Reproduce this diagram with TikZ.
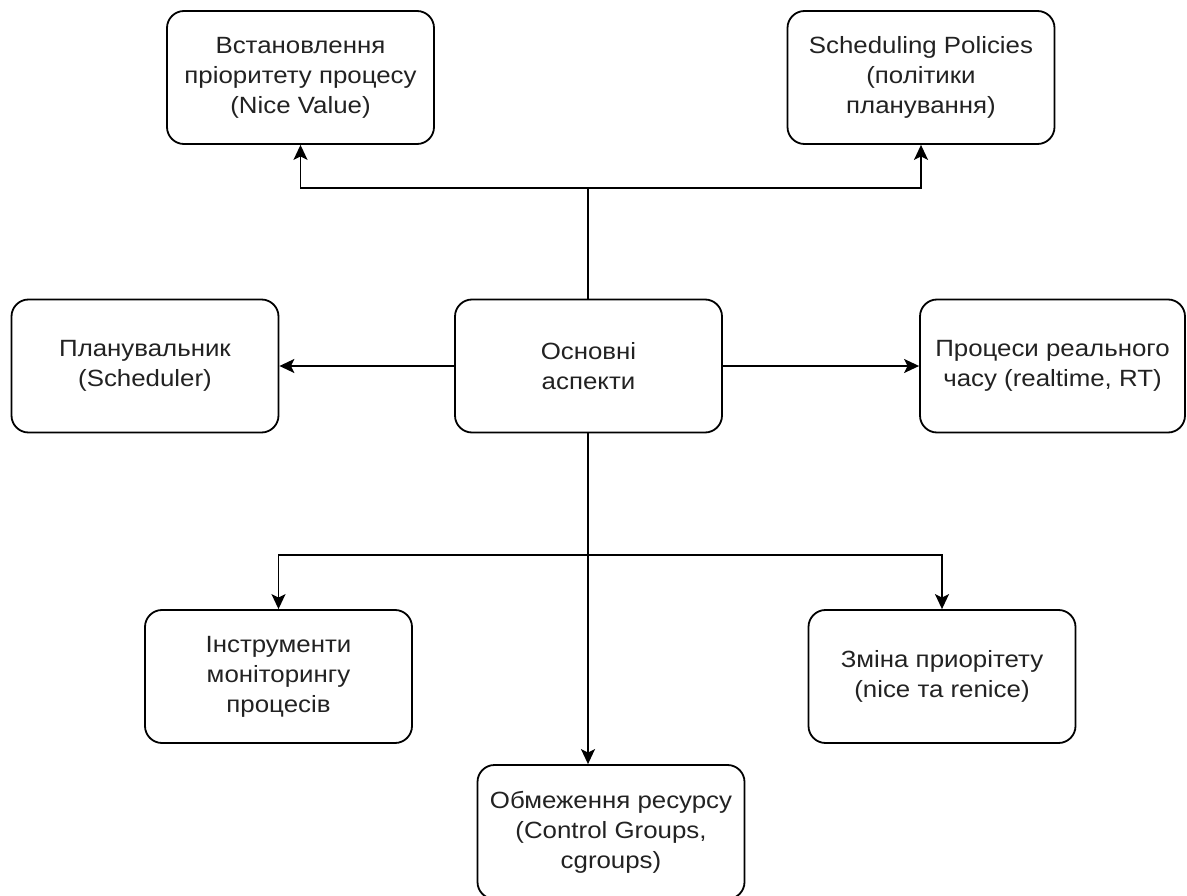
\documentclass[tikz,border=0pt]{standalone}
\usepackage{fontspec}
\setmainfont{Liberation Sans}[FakeStretch=1.1]
\usetikzlibrary{arrows.meta}
\definecolor{txt}{HTML}{222222}
\tikzset{
  box/.style={draw=black, line width=1.8pt, rounded corners=17pt, fill=white,
    minimum width=267pt, minimum height=133pt, align=center, text=txt,
    font=\fontsize{23.5pt}{30pt}\selectfont, inner sep=0pt},
  link/.style={draw=black, line width=1.8pt,
    -{Stealth[length=15pt, width=14pt, inset=3.5pt]}},
  wire/.style={draw=black, line width=1.8pt}
}
\begin{document}
\begin{tikzpicture}[x=1pt, y=-1pt]
  \useasboundingbox (0,0) rectangle (1187,896);
  \fill[white] (0,0) rectangle (1187,896);

  \node[box] (nice)   at (300.5,77.5) {Встановлення\\пріоритету процесу\\(Nice Value)};
  \node[box] (policy) at (921,77.5)   {Scheduling Policies\\(політики\\планування)};
  \node[box] (sched)  at (145,366)    {Планувальник\\(Scheduler)};
  \node[box] (core)   at (588.5,366)  {Основні\\аспекти};
  \node[box, minimum width=265pt] (rt) at (1052.5,366) {Процеси реального\\часу (realtime, RT)};
  \node[box] (mon)    at (278.5,676.5) {Інструменти\\моніторингу\\процесів};
  \node[box] (renice) at (942,676.5)   {Зміна приорітету\\(nice та renice)};
  \node[box, minimum height=134pt] (cg) at (611,832) {Обмеження ресурсу\\(Control Groups,\\cgroups)};

  % upward branch
  \coordinate (up) at (588,188);
  \draw[wire] (core.north -| up) -- (up);
  \draw[link] (up) -| (nice.south);
  \draw[link] (up) -| (policy.south);

  % sideways links
  \draw[link] (core.west) -- (sched.east);
  \draw[link] (core.east) -- (rt.west);

  % downward branch
  \coordinate (down) at (588,555);
  \draw[link] (core.south -| up) -- (cg.north -| up);
  \draw[link] (down) -| (mon.north);
  \draw[link] (down) -| (renice.north);
\end{tikzpicture}
\end{document}
